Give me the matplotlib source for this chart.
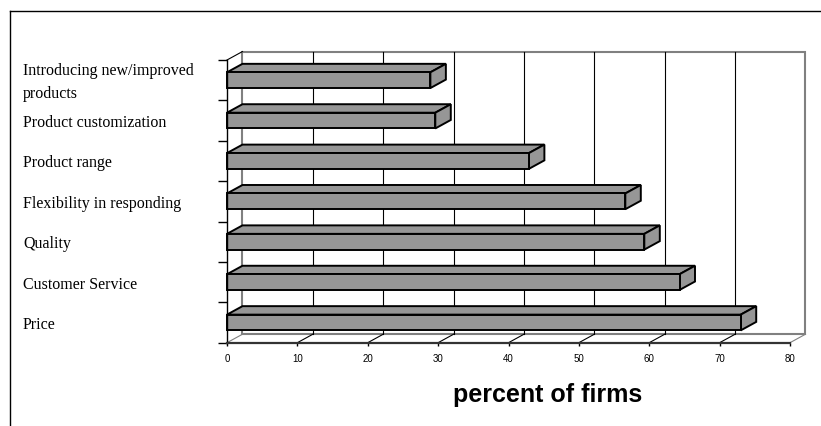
import matplotlib.pyplot as plt
import matplotlib.transforms as mtransforms
from matplotlib.patches import Polygon, Rectangle
from matplotlib.lines import Line2D
import numpy as np

# competitive factors, bottom to top
factors = ['Price', 'Customer Service', 'Quality', 'Flexibility in responding',
           'Product range', 'Product customization',
           'Introducing new/improved\nproducts']
percent = [73.0, 64.3, 59.3, 56.6, 42.9, 29.6, 28.9]
x_ticks = [0, 10, 20, 30, 40, 50, 60, 70, 80]

W, H = 821, 426
fig = plt.figure(figsize=(W / 100, H / 100), dpi=100)
ax = fig.add_axes([227 / W, (H - 342.7) / H, (790 - 227) / W, (342.7 - 60) / H])
ax.set_xlim(x_ticks[0], x_ticks[-1])
ax.set_ylim(-0.5, len(factors) - 0.5)
ax.patch.set_visible(False)

# 3-d depth offset in data units (about 15 px right, 8.5 px up)
dx, dy = 2.2, 0.21
y0, y1 = -0.5, len(factors) - 0.5
wall_grey = '#808080'

# back wall
ax.add_patch(Rectangle((x_ticks[0] + dx, y0 + dy), x_ticks[-1] - x_ticks[0], y1 - y0,
                       facecolor='white', edgecolor=wall_grey, lw=1.5,
                       clip_on=False, zorder=1))
for t in x_ticks[1:-1]:
    ax.plot([t + dx, t + dx], [y0 + dy, y1 + dy], color='black', lw=0.8,
            clip_on=False, zorder=2)

# floor lines
for t in x_ticks:
    c = wall_grey if t in (x_ticks[0], x_ticks[-1]) else 'black'
    ax.plot([t, t + dx], [y0, y0 + dy], color=c, lw=0.8, clip_on=False, zorder=2)
# top edge of the side wall
ax.plot([0, dx], [y1, y1 + dy], color='black', lw=0.8, clip_on=False, zorder=2)

# bars
h = 0.39
bar_grey = '#969696'
for i, v in enumerate(percent):
    lo, hi = i - h / 2, i + h / 2
    top = Polygon([(0, hi), (v, hi), (v + dx, hi + dy), (dx, hi + dy)], closed=True,
                  facecolor=bar_grey, edgecolor='black', lw=1.4, joinstyle='miter',
                  clip_on=False, zorder=3)
    side = Polygon([(v, lo), (v + dx, lo + dy), (v + dx, hi + dy), (v, hi)], closed=True,
                   facecolor=bar_grey, edgecolor='black', lw=1.4, joinstyle='miter',
                   clip_on=False, zorder=3)
    front = Rectangle((0, lo), v, h, facecolor=bar_grey, edgecolor='black', lw=1.4,
                      joinstyle='miter', clip_on=False, zorder=4)
    ax.add_patch(top)
    ax.add_patch(side)
    ax.add_patch(front)

# front axes
for s in ('top', 'right'):
    ax.spines[s].set_visible(False)
ax.spines['left'].set_color('black')
ax.spines['left'].set_linewidth(1.0)
ax.spines['bottom'].set_color('#333333')
ax.spines['bottom'].set_linewidth(1.6)
ax.spines['left'].set_zorder(5)
ax.spines['bottom'].set_zorder(5)

ax.set_xticks(x_ticks)
ax.set_xticklabels([str(t) for t in x_ticks], fontsize=7, family='Liberation Sans')
ax.tick_params(axis='x', length=2.5, width=1, pad=5.5, color='black')
ax.set_yticks(np.arange(y0, y1 + 0.01, 1))
ax.set_yticklabels([])
ax.tick_params(axis='y', length=6.5, width=1, color='black')

# category labels, left aligned
lab_tr = mtransforms.blended_transform_factory(fig.transFigure, ax.transData)
for i, name in enumerate(factors):
    ax.text(23 / W, i - 0.06, name, transform=lab_tr, ha='left', va='center',
            fontsize=11.5, family='Liberation Serif', linespacing=1.55)

fig.text(548 / W, 1 - 395 / H, 'percent of firms', ha='center', va='center',
         fontsize=18, fontweight='bold', family='Liberation Sans')

# outer frame
fig.add_artist(Line2D([10 / W, 1], [1 - 11 / H, 1 - 11 / H], color='black', lw=1,
                      transform=fig.transFigure))
fig.add_artist(Line2D([10 / W, 10 / W], [1 - 11 / H, 0], color='black', lw=1,
                      transform=fig.transFigure))

fig.savefig('out.png', dpi=100)
